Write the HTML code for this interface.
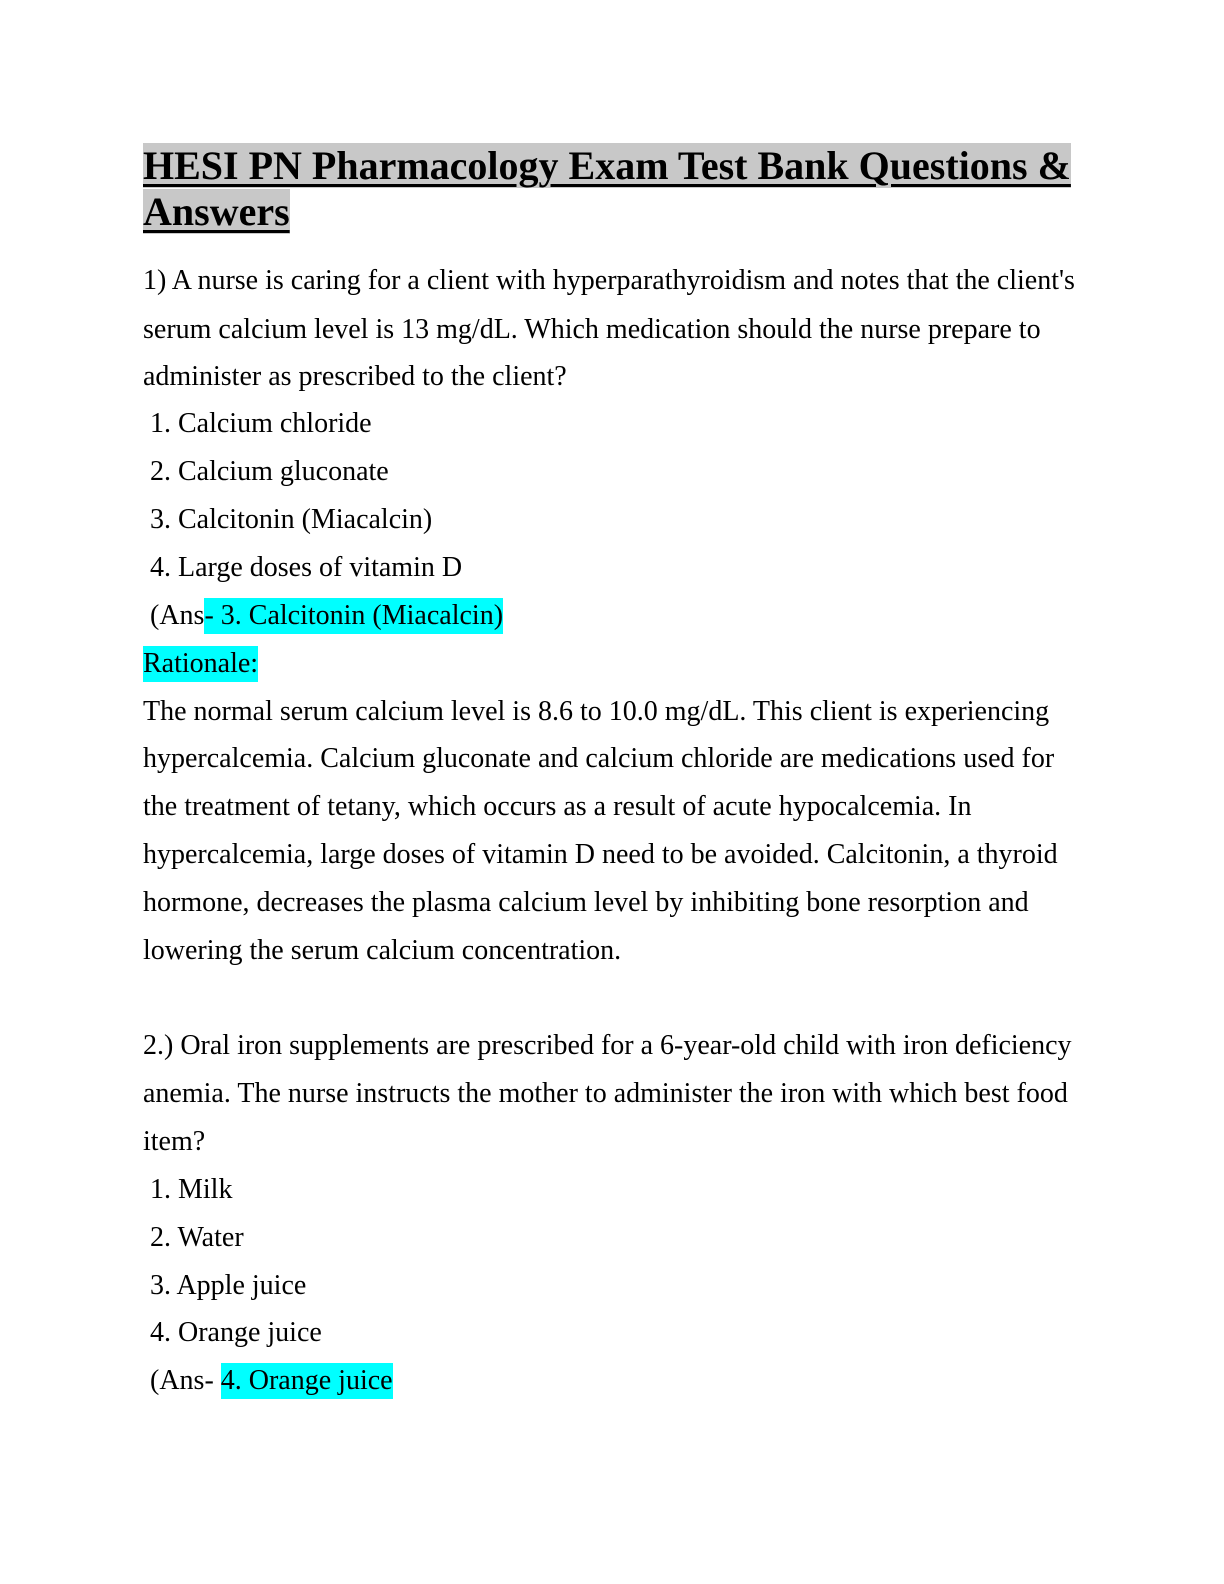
<!DOCTYPE html>
<html><head><meta charset="utf-8"><style>
body{margin:0;width:1224px;height:1584px;background:#fff;position:relative;font-family:"Liberation Serif",serif;color:#000}
.t{position:absolute;left:143px;font-size:40px;font-weight:bold;line-height:46px;white-space:nowrap}
.t span{background:#c8c8c8;text-decoration:underline;text-decoration-thickness:3px;text-underline-offset:5px}
.l{position:absolute;left:143px;font-size:28px;line-height:48px;height:48px;white-space:nowrap}
.h{background:#00ffff;line-height:36px;display:inline-block}
</style></head><body>
<div class="t" style="top:143px"><span>HESI PN Pharmacology Exam Test Bank Questions &amp;</span></div>
<div class="t" style="top:189px"><span>Answers</span></div>
<div class="l" style="top:257px">1) A nurse is caring for a client with hyperparathyroidism and notes that the client's</div>
<div class="l" style="top:306px">serum calcium level is 13 mg/dL. Which medication should the nurse prepare to</div>
<div class="l" style="top:353px">administer as prescribed to the client?</div>
<div class="l" style="top:400px">&nbsp;1. Calcium chloride</div>
<div class="l" style="top:448px">&nbsp;2. Calcium gluconate</div>
<div class="l" style="top:496px">&nbsp;3. Calcitonin (Miacalcin)</div>
<div class="l" style="top:544px">&nbsp;4. Large doses of vitamin D</div>
<div class="l" style="top:592px">&nbsp;(Ans<span class="h">- 3. Calcitonin (Miacalcin)</span></div>
<div class="l" style="top:640px"><span class="h">Rationale:</span></div>
<div class="l" style="top:688px">The normal serum calcium level is 8.6 to 10.0 mg/dL. This client is experiencing</div>
<div class="l" style="top:735px">hypercalcemia. Calcium gluconate and calcium chloride are medications used for</div>
<div class="l" style="top:783px">the treatment of tetany, which occurs as a result of acute hypocalcemia. In</div>
<div class="l" style="top:831px">hypercalcemia, large doses of vitamin D need to be avoided. Calcitonin, a thyroid</div>
<div class="l" style="top:879px">hormone, decreases the plasma calcium level by inhibiting bone resorption and</div>
<div class="l" style="top:927px">lowering the serum calcium concentration.</div>
<div class="l" style="top:1022px">2.) Oral iron supplements are prescribed for a 6-year-old child with iron deficiency</div>
<div class="l" style="top:1070px">anemia. The nurse instructs the mother to administer the iron with which best food</div>
<div class="l" style="top:1118px">item?</div>
<div class="l" style="top:1166px">&nbsp;1. Milk</div>
<div class="l" style="top:1214px">&nbsp;2. Water</div>
<div class="l" style="top:1262px">&nbsp;3. Apple juice</div>
<div class="l" style="top:1309px">&nbsp;4. Orange juice</div>
<div class="l" style="top:1357px">&nbsp;(Ans- <span class="h">4. Orange juice</span></div>
</body></html>
